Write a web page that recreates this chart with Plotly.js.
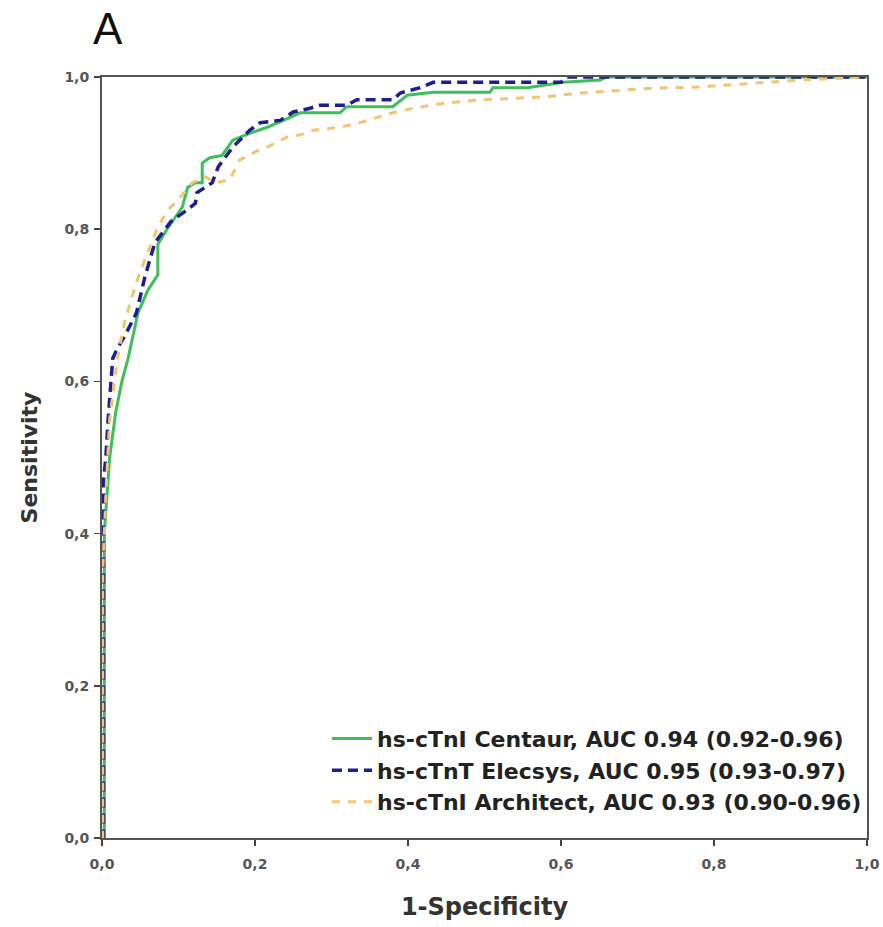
<!DOCTYPE html>
<html>
<head>
<meta charset="utf-8">
<script src="https://cdn.plot.ly/plotly-3.0.1.min.js"></script>
<style>html,body{margin:0;padding:0;background:#fff;}#chart{width:883px;height:927px;}</style>
</head>
<body>
<div id="chart"></div>
<script>
// Series names
const seriesNames = [
  "hs-cTnI Centaur, AUC 0.94 (0.92-0.96)",
  "hs-cTnT Elecsys, AUC 0.95 (0.93-0.97)",
  "hs-cTnI Architect, AUC 0.93 (0.90-0.96)"
];

// hs-cTnI Centaur (1-Specificity, Sensitivity)
const centaurX = [0,0.003,0.003,0.01,0.018,0.026,0.034,0.047,0.06,0.073,0.073,0.085,0.105,0.112,0.122,0.131,0.131,0.141,0.157,0.171,0.193,0.216,0.237,0.259,0.311,0.32,0.38,0.399,0.433,0.507,0.511,0.556,0.603,0.651,0.66,1.0];
const centaurY = [0,0,0.4,0.5,0.56,0.6,0.63,0.69,0.72,0.74,0.78,0.8,0.829,0.855,0.861,0.861,0.887,0.894,0.897,0.917,0.926,0.934,0.943,0.953,0.953,0.961,0.961,0.976,0.98,0.98,0.986,0.986,0.993,0.996,1.0,1.0];

// hs-cTnT Elecsys
const elecsysX = [0,0.002,0.002,0.005,0.008,0.012,0.014,0.021,0.03,0.045,0.052,0.056,0.069,0.09,0.108,0.122,0.124,0.144,0.152,0.165,0.171,0.193,0.207,0.233,0.25,0.272,0.285,0.32,0.333,0.38,0.39,0.416,0.433,0.6,0.608,1.0];
const elecsysY = [0,0,0.47,0.5,0.55,0.6,0.63,0.645,0.66,0.69,0.72,0.737,0.782,0.81,0.823,0.834,0.848,0.861,0.882,0.9,0.908,0.93,0.94,0.943,0.954,0.959,0.963,0.963,0.97,0.97,0.979,0.986,0.993,0.993,1.0,1.0];

// hs-cTnI Architect
const architectX = [0,0.001,0.001,0.005,0.01,0.02,0.03,0.045,0.056,0.073,0.086,0.099,0.118,0.135,0.148,0.167,0.18,0.207,0.216,0.242,0.259,0.276,0.311,0.337,0.38,0.407,0.451,0.494,0.537,0.58,0.625,0.677,0.716,0.782,0.847,0.912,1.0];
const architectY = [0,0,0.35,0.45,0.55,0.63,0.68,0.73,0.76,0.803,0.825,0.838,0.861,0.869,0.861,0.865,0.891,0.905,0.908,0.921,0.924,0.93,0.934,0.94,0.953,0.959,0.966,0.97,0.972,0.974,0.979,0.983,0.985,0.987,0.992,0.996,1.0];

// Axis ticks
const tickVals = [0, 0.2, 0.4, 0.6, 0.8, 1.0];
const tickText = ["0,0", "0,2", "0,4", "0,6", "0,8", "1,0"];

const FONT = "DejaVu Sans, Verdana, sans-serif";

const traces = [
  {x: centaurX, y: centaurY, name: seriesNames[0], mode: "lines",
   line: {color: "#3fbf5c", width: 3, dash: "solid"}},
  {x: elecsysX, y: elecsysY, name: seriesNames[1], mode: "lines",
   line: {color: "#1c1f8e", width: 3.5, dash: "10px,6px"}},
  {x: architectX, y: architectY, name: seriesNames[2], mode: "lines",
   line: {color: "#f2c474", width: 3, dash: "8px,8px"}}
];

const axisCommon = {
  range: [0, 1],
  tickmode: "array",
  tickvals: tickVals,
  ticktext: tickText,
  ticks: "outside",
  ticklen: 6,
  tickwidth: 1.5,
  tickcolor: "#444",
  showline: true,
  linecolor: "#555",
  linewidth: 2,
  mirror: true,
  showgrid: false,
  zeroline: false,
  tickfont: {family: FONT, size: 14, color: "#555", weight: "bold"},
  fixedrange: true
};

const layout = {
  width: 883,
  height: 927,
  margin: {l: 102, r: 16, t: 77, b: 89},
  paper_bgcolor: "#fff",
  plot_bgcolor: "#fff",
  showlegend: true,
  legend: {
    x: 1.0, xanchor: "right", y: 0.02, yanchor: "bottom",
    bgcolor: "rgba(255,255,255,0)",
    font: {family: FONT, size: 22, color: "#222", weight: "bold"},
    tracegroupgap: 0,
    itemwidth: 40
  },
  xaxis: Object.assign({}, axisCommon, {
    ticklabelstandoff: 6,
    title: {text: "1-Specificity", standoff: 27,
      font: {family: FONT, size: 24, color: "#333", weight: "bold"}}
  }),
  yaxis: Object.assign({}, axisCommon, {
    ticklabelstandoff: 2,
    title: {text: "Sensitivity", standoff: 21,
      font: {family: FONT, size: 22, color: "#333", weight: "bold"}}
  }),
  annotations: [{
    text: "A", xref: "paper", yref: "paper", x: 0, y: 1.0,
    xshift: 6, yshift: 49, showarrow: false,
    xanchor: "center", yanchor: "middle",
    font: {family: "Liberation Sans, Arial, sans-serif", size: 44, color: "#111"}
  }]
};

Plotly.newPlot("chart", traces, layout, {displayModeBar: false, staticPlot: true});
</script>
</body>
</html>
